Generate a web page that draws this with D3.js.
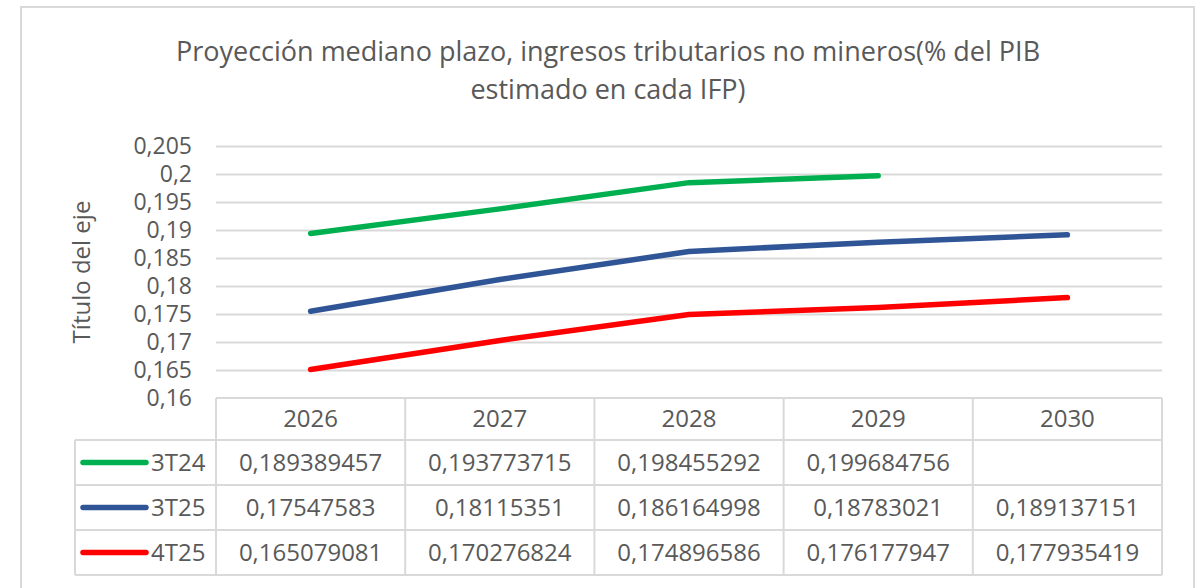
<!DOCTYPE html>
<html>
<head>
<meta charset="utf-8">
<script src="https://cdn.jsdelivr.net/npm/d3@7"></script>
<style>
  body { margin: 0; background: #fff; }
  text { font-family: "Open Sans", sans-serif; fill: #595959; }
</style>
</head>
<body>
<script>
const years = ["2026", "2027", "2028", "2029", "2030"];
const seriesNames = ["3T24", "3T25", "4T25"];
const seriesColors = ["#00b050", "#2f5597", "#ff0000"];
const v3T24 = [0.189389457, 0.193773715, 0.198455292, 0.199684756, null];
const v3T25 = [0.17547583, 0.18115351, 0.186164998, 0.18783021, 0.189137151];
const v4T25 = [0.165079081, 0.170276824, 0.174896586, 0.176177947, 0.177935419];
const yTicks = [0.16, 0.165, 0.17, 0.175, 0.18, 0.185, 0.19, 0.195, 0.2, 0.205];

const series = [v3T24, v3T25, v4T25].map((vals, i) => ({
  name: seriesNames[i],
  color: seriesColors[i],
  values: vals.map((v, j) => ({ year: years[j], v }))
}));

const width = 1203, height = 588;
const svg = d3.select("body").append("svg")
  .attr("width", width).attr("height", height);

// chart border
svg.append("rect")
  .attr("x", 21).attr("y", 7).attr("width", 1173).attr("height", 600)
  .attr("fill", "none").attr("stroke", "#d9d9d9").attr("stroke-width", 2);

const x = d3.scaleBand().domain(years).range([216, 1162]);
const y = d3.scaleLinear().domain([0.16, 0.205]).range([398, 146]);

const loc = d3.formatLocale({ decimal: ",", thousands: ".", grouping: [3] });
const fmt = loc.format(".3~f");

// title
svg.append("text")
  .attr("x", 608).attr("y", 61).attr("text-anchor", "middle")
  .style("font-size", "27px")
  .selectAll("tspan")
  .data(["Proyección mediano plazo, ingresos tributarios no mineros(% del PIB", "estimado en cada IFP)"])
  .join("tspan")
  .attr("x", 608).attr("dy", (d, i) => i ? 38 : 0)
  .text(d => d);

// grid
svg.append("g")
  .attr("transform", "translate(216,0)")
  .call(d3.axisLeft(y).tickValues(yTicks.slice(1)).tickSize(-946).tickFormat(""))
  .call(g => g.select(".domain").remove())
  .call(g => g.selectAll("line").attr("stroke", "#d9d9d9").attr("stroke-width", 2));

// y labels
svg.append("g")
  .attr("transform", "translate(192,0)")
  .call(d3.axisLeft(y).tickValues(yTicks).tickSize(0).tickPadding(0).tickFormat(fmt))
  .call(g => g.select(".domain").remove())
  .call(g => g.selectAll("text").style("font-size", "23px").attr("fill", "#595959"));

// axis title
svg.append("text")
  .attr("transform", "translate(90,272) rotate(-90)")
  .attr("text-anchor", "middle")
  .style("font-size", "24px")
  .text("Título del eje");

// lines
const line = d3.line()
  .defined(d => d.v != null)
  .x(d => x(d.year) + x.bandwidth() / 2)
  .y(d => y(d.v));

svg.append("g").selectAll("path")
  .data(series)
  .join("path")
  .attr("d", d => line(d.values))
  .attr("fill", "none")
  .attr("stroke", d => d.color)
  .attr("stroke-width", 5.5)
  .attr("stroke-linecap", "round")
  .attr("stroke-linejoin", "round");

// data table
const rowTop = 440, rowH = 45, headTop = 398, tableLeft = 75;
const tbl = svg.append("g");
const gridStroke = "#d9d9d9";

tbl.append("line").attr("x1", 216).attr("x2", 1162).attr("y1", headTop).attr("y2", headTop)
  .attr("stroke", gridStroke).attr("stroke-width", 2);
d3.range(series.length + 1).forEach(i => {
  tbl.append("line")
    .attr("x1", tableLeft).attr("x2", 1162)
    .attr("y1", rowTop + i * rowH).attr("y2", rowTop + i * rowH)
    .attr("stroke", gridStroke).attr("stroke-width", 2);
});
tbl.append("line").attr("x1", tableLeft).attr("x2", tableLeft)
  .attr("y1", rowTop).attr("y2", rowTop + series.length * rowH)
  .attr("stroke", gridStroke).attr("stroke-width", 2);
years.concat(["end"]).forEach((yr, i) => {
  const xx = i < years.length ? x(yr) : x.range()[1];
  tbl.append("line").attr("x1", xx).attr("x2", xx)
    .attr("y1", headTop).attr("y2", rowTop + series.length * rowH)
    .attr("stroke", gridStroke).attr("stroke-width", 2);
});

tbl.selectAll(".yr").data(years).join("text")
  .attr("x", d => x(d) + x.bandwidth() / 2)
  .attr("y", headTop + 21).attr("dy", "0.35em")
  .attr("text-anchor", "middle")
  .style("font-size", "24px")
  .text(d => d);

series.forEach((s, i) => {
  const cy = rowTop + i * rowH + rowH / 2;
  tbl.append("line")
    .attr("x1", 83).attr("x2", 146).attr("y1", cy).attr("y2", cy)
    .attr("stroke", s.color).attr("stroke-width", 5.5).attr("stroke-linecap", "round");
  tbl.append("text")
    .attr("x", 151).attr("y", cy).attr("dy", "0.35em")
    .style("font-size", "24px")
    .text(s.name);
  tbl.selectAll(null).data(s.values.filter(d => d.v != null)).join("text")
    .attr("x", d => x(d.year) + x.bandwidth() / 2)
    .attr("y", cy).attr("dy", "0.35em")
    .attr("text-anchor", "middle")
    .style("font-size", "24px")
    .text(d => String(d.v).replace(".", ","));
});
</script>
</body>
</html>
